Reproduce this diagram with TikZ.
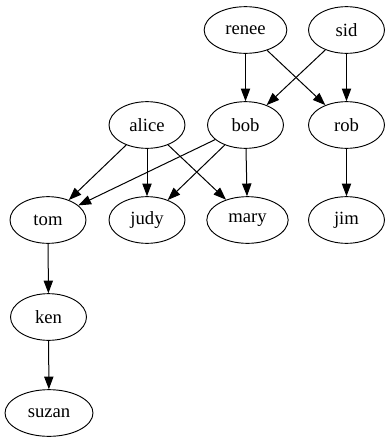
\documentclass[tikz,border=0pt]{standalone}
\usepackage{fontspec}
\setmainfont{Liberation Serif}
\usetikzlibrary{shapes.geometric,arrows.meta}

\tikzset{
    person/.style={draw, ellipse, inner sep=0pt, minimum width=57pt, minimum height=35pt, line width=0.7pt, font=\fontsize{14pt}{16pt}\selectfont},
    link/.style={-{Triangle[length=9.5pt,width=7pt]}, line width=0.75pt}
}

\begin{document}
\begin{tikzpicture}[x=0.75pt, y=-0.75pt]
    \useasboundingbox (0,0) rectangle (389,443);

    \node[person, minimum width=62pt] (renee) at (245.5,30) {renee};
    \node[person] (sid)   at (346.5,30) {sid};
    \node[person] (alice) at (147,125) {alice};
    \node[person] (bob)   at (245.5,125) {bob};
    \node[person] (rob)   at (346.5,125) {rob};
    \node[person] (tom)   at (48,220) {tom};
    \node[person] (judy)  at (147,220) {judy};
    \node[person, minimum width=61pt] (mary) at (247.5,220) {mary};
    \node[person] (jim)   at (346.5,220) {jim};
    \node[person] (ken)   at (48.5,317) {ken};
    \node[person, minimum width=66pt] (suzan) at (49,413) {suzan};

    \draw[link] (renee) -- (bob);
    \draw[link] (renee) -- (rob);
    \draw[link] (sid) -- (bob);
    \draw[link] (sid) -- (rob);
    \draw[link] (alice) -- (tom);
    \draw[link] (alice) -- (judy);
    \draw[link] (alice) -- (mary);
    \draw[link] (bob) -- (tom);
    \draw[link] (bob) -- (judy);
    \draw[link] (bob) -- (mary);
    \draw[link] (rob) -- (jim);
    \draw[link] (tom) -- (ken);
    \draw[link] (ken) -- (suzan);
\end{tikzpicture}
\end{document}
